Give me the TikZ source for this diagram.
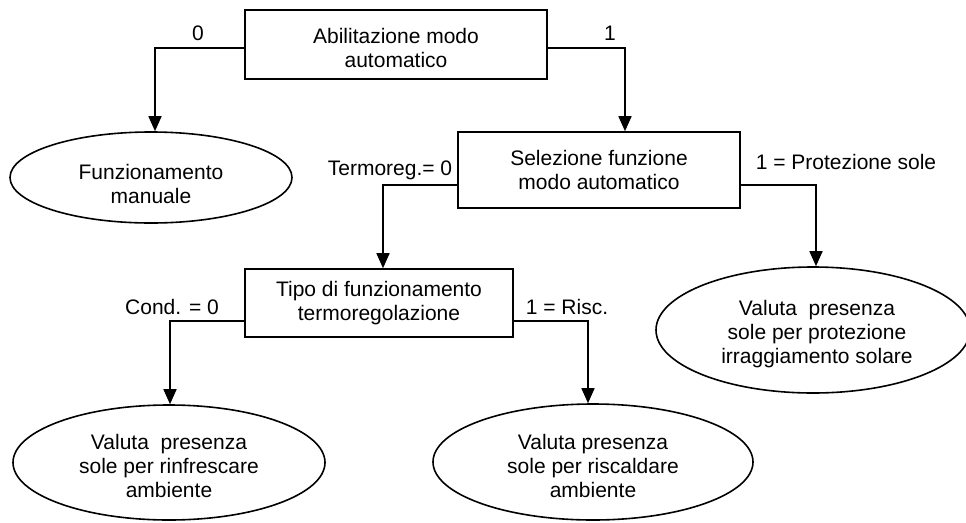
\documentclass[tikz,border=0pt]{standalone}
\usepackage{fontspec}
\setmainfont{Liberation Sans}
\usetikzlibrary{arrows.meta,shapes.geometric}
\begin{document}
\begin{tikzpicture}[x=1pt,y=-1pt,
  every node/.style={font=\fontsize{21}{24}\selectfont, align=center, inner sep=0pt},
  boxnode/.style={draw, line width=1.6pt, rectangle},
  ellnode/.style={draw, line width=1.6pt, ellipse},
  lbl/.style={},
  arr/.style={line width=1.6pt, -{Triangle[width=13pt,length=15pt]}}]
\useasboundingbox (0,0) rectangle (966,522);
% boxes
\node[boxnode, minimum width=302pt, minimum height=69pt] (b1) at (396,44.5) {};
\node at (396,48) {Abilitazione modo\\automatico};
\node[boxnode, minimum width=282pt, minimum height=76pt] (b2) at (599,170) {Selezione funzione\\modo automatico};
\node[boxnode, minimum width=268pt, minimum height=68pt] (b3) at (379,303) {Tipo di funzionamento\\termoregolazione};
% ellipses
\node[ellnode, minimum width=282pt, minimum height=91pt] (e1) at (151,177.5) {};
\node at (151,184) {Funzionamento\\manuale};
\node[ellnode, minimum width=314pt, minimum height=126pt] (e2) at (813,330) {};
\node at (817,334) {Valuta~ presenza\\sole per protezione\\irraggiamento solare};
\node[ellnode, minimum width=312pt, minimum height=115pt] (e3) at (169,462.5) {};
\node at (169,466) {Valuta~ presenza\\sole per rinfrescare\\ambiente};
\node[ellnode, minimum width=320pt, minimum height=116pt] (e4) at (593,462) {};
\node at (593,466) {Valuta presenza\\sole per riscaldare\\ambiente};
% labels
\node[lbl] (l0) at (198,33) {0};
\node[lbl] (l1) at (610,33) {1};
\node[lbl] (lt) at (390,170) {Termoreg.= 0};
\node[lbl] (lp) at (846,162) {1 = Protezione sole};
\node[lbl] (lc) at (172,307) {Cond. = 0};
\node[lbl] (lr) at (567,307) {1 = Risc.};
% connectors
\draw[arr] ([yshift=-3.5pt]b1.west) -| ([xshift=4pt]e1.north);
\draw[arr] ([yshift=-3.5pt]b1.east) -| ([xshift=26pt]b2.north);
\draw[arr] ([yshift=-15pt]b2.west) -| ([xshift=4pt]b3.north);
\draw[arr] ([yshift=-15pt]b2.east) -| ([xshift=3pt]e2.north);
\draw[arr] ([yshift=-18pt]b3.west) -| ([xshift=1pt]e3.north);
\draw[arr] ([yshift=-18pt]b3.east) -| ([xshift=-5pt]e4.north);
\end{tikzpicture}
\end{document}
